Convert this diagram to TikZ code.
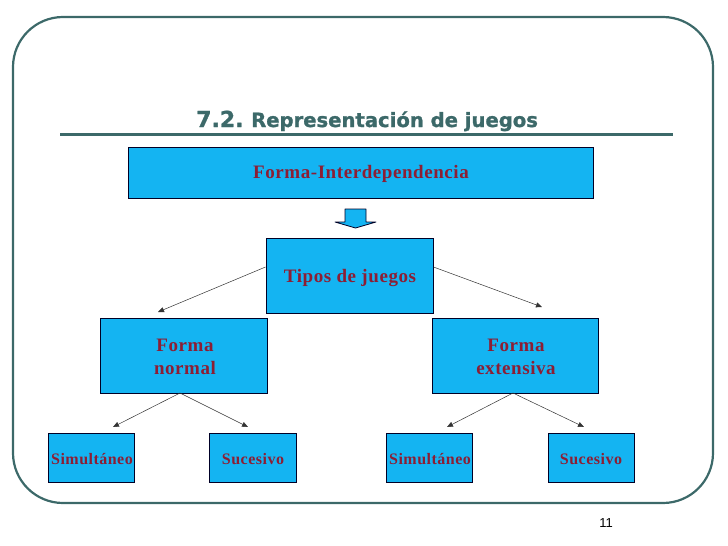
\documentclass[tikz,border=0pt]{standalone}
\usepackage{fontspec}
\setmainfont{Liberation Serif}
\newfontfamily\boxfont[LetterSpace=3]{Liberation Serif}
\newfontfamily\titlefont[FakeBold=1.2]{DejaVu Sans Bold}
\newfontfamily\numfont{Liberation Sans}
\usetikzlibrary{arrows.meta}
\definecolor{teal1}{RGB}{60,105,105}
\definecolor{boxfill}{RGB}{20,180,242}
\definecolor{boxtext}{RGB}{140,30,52}
\begin{document}
\begin{tikzpicture}[x=1pt,y=-1pt,
  bx/.style={draw=black!85!blue, line width=1pt, fill=boxfill, inner sep=0pt},
  lbl/.style={text=boxtext, font=\boxfont\bfseries\fontsize{19}{23}\selectfont, align=center},
  slbl/.style={text=boxtext, font=\boxfont\bfseries\fontsize{16}{18}\selectfont, align=center},
  conn/.style={draw=black!80, line width=0.5pt, -{Triangle[length=6pt,width=5pt]}}]
\useasboundingbox (0,0) rectangle (728,546);
% frame
\draw[teal1, line width=2.2pt, rounded corners=50pt] (13,17) rectangle (713,503);
% title
\node[anchor=base west, text=teal1, inner sep=0pt, font=\titlefont\fontsize{22}{26}\selectfont] (t72) at (196,127) {7.2.};
\node[anchor=base west, text=teal1, inner sep=0pt, font=\titlefont\fontsize{19.6}{22}\selectfont] (ttl) at (251,127) {Representación de juegos};
\draw[teal1, line width=3pt] (60,134) -- (673,134);
% top box
\draw[bx] (128,147) rectangle (593,198);
\node[lbl] (fi) at (361,174) {Forma-Interdependencia};
% block arrow
\draw[draw=black!85!blue, fill=boxfill, line width=0.8pt, line join=round]
  (345,209) -- (366,209) -- (366,222) -- (376,222) -- (355.5,228) -- (335,222) -- (345,222) -- cycle;
% tipos
\node[bx, minimum width=167pt, minimum height=75pt] (tipos) at (349.5,275.5) {};
\node[lbl] at (350,278) {Tipos de juegos};
% forma normal / extensiva
\node[bx, minimum width=167pt, minimum height=75pt] (fn) at (183.5,355.5) {};
\node[lbl] at (185,357) {Forma\\normal};
\node[bx, minimum width=166pt, minimum height=75pt] (fe) at (515,355.5) {};
\node[lbl] at (516,357) {Forma\\extensiva};
% bottom boxes
\node[bx, minimum width=86pt, minimum height=49pt] (s1) at (91,457.5) {};
\node[slbl] at (92,459) {Simultáneo};
\node[bx, minimum width=87pt, minimum height=49pt] (c1) at (252.5,457.5) {};
\node[slbl] at (253,459) {Sucesivo};
\node[bx, minimum width=86pt, minimum height=49pt] (s2) at (429,457.5) {};
\node[slbl] at (430,459) {Simultáneo};
\node[bx, minimum width=86pt, minimum height=49pt] (c2) at (591,457.5) {};
\node[slbl] at (591,459) {Sucesivo};
% connectors
\coordinate (tl) at (tipos.west |- 0,267);
\coordinate (tr) at (tipos.east |- 0,267);
\coordinate (a1) at (158,312);
\coordinate (a2) at (542,307);
\draw[conn] (tl) -- (a1);
\draw[conn] (tr) -- (a2);
\coordinate (fnb) at (180,393);
\coordinate (feb) at (513,393);
\coordinate (b1) at (113,427);
\coordinate (b2) at (248,427);
\coordinate (b3) at (447,427);
\coordinate (b4) at (584,427);
\draw[conn] (fnb) -- (b1);
\draw[conn] (fnb) -- (b2);
\draw[conn] (feb) -- (b3);
\draw[conn] (feb) -- (b4);
% page number
\node[font=\numfont\fontsize{13}{15}\selectfont] (pg) at (606,523) {11};
\end{tikzpicture}
\end{document}
